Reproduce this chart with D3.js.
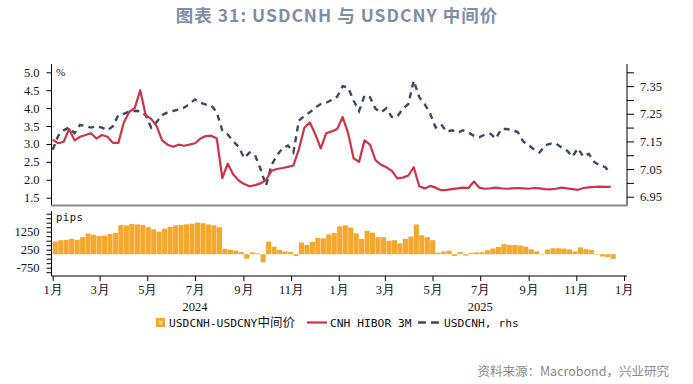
<!DOCTYPE html>
<html>
<head>
<meta charset="utf-8">
<script src="https://cdn.jsdelivr.net/npm/d3@7"></script>
<style>
  body { margin: 0; background: #fff; }
</style>
</head>
<body>
<svg id="chart" width="693" height="384"></svg>
<script>
// weekly readings, first week = 2024-01-01
const weekStart = new Date(2024, 0, 1);

const hibor = [
  3.12, 3.02, 3.06, 3.42, 3.1, 3.2, 3.25, 3.3, 3.15, 3.25,
  3.2, 3.03, 3.03, 3.6, 3.9, 4.0, 4.5, 3.8, 3.7, 3.5,
  3.1, 2.98, 2.92, 2.98, 2.95, 2.98, 3.02, 3.15, 3.22, 3.23,
  3.15, 2.05, 2.45, 2.15, 1.98, 1.88, 1.82, 1.85, 1.9, 2.0,
  2.25, 2.3, 2.33, 2.36, 2.4, 2.85, 3.45, 3.6, 3.27, 2.88,
  3.3, 3.35, 3.42, 3.75, 3.3, 2.6, 2.5, 3.1, 2.98, 2.55,
  2.42, 2.35, 2.25, 2.04, 2.06, 2.12, 2.35, 1.82, 1.76, 1.83,
  1.78, 1.71, 1.72, 1.74, 1.76, 1.78, 1.77, 1.95, 1.78, 1.75,
  1.76, 1.78, 1.76, 1.75, 1.76, 1.77, 1.76, 1.75, 1.77, 1.76,
  1.74, 1.73, 1.75, 1.78, 1.76, 1.74, 1.72, 1.77, 1.79, 1.8,
  1.81, 1.8, 1.8
];

const usdcnh = [
  7.12, 7.17, 7.19, 7.2, 7.18, 7.21, 7.205, 7.2, 7.205, 7.2,
  7.19, 7.205, 7.245, 7.25, 7.258, 7.26, 7.26, 7.245, 7.2, 7.22,
  7.245, 7.255, 7.26, 7.265, 7.272, 7.285, 7.302, 7.29, 7.283, 7.28,
  7.255, 7.19, 7.175, 7.15, 7.13, 7.09, 7.11, 7.1, 7.05, 6.99,
  7.065, 7.1, 7.125, 7.135, 7.11, 7.225, 7.243, 7.255, 7.272, 7.285,
  7.29, 7.3, 7.312, 7.35, 7.345, 7.298, 7.26, 7.316, 7.31, 7.268,
  7.255, 7.27, 7.238, 7.24, 7.268, 7.285, 7.37, 7.31, 7.285, 7.25,
  7.2, 7.212, 7.185, 7.19, 7.182, 7.19, 7.182, 7.17, 7.165, 7.175,
  7.178, 7.16, 7.195, 7.195, 7.19, 7.184, 7.15, 7.137, 7.12, 7.11,
  7.135, 7.142, 7.142, 7.128, 7.117, 7.095, 7.125, 7.095, 7.105, 7.075,
  7.063, 7.057, 7.033
];

const spread = [
  700, 780, 800, 850, 800, 950, 1150, 1080, 1010, 1030,
  1120, 1180, 1620, 1600, 1680, 1650, 1620, 1500, 1380, 1260,
  1420, 1520, 1600, 1620, 1660, 1700, 1760, 1720, 1650, 1600,
  1500, 300, 250, 200, 120, -250, 100, 50, -450, 700,
  420, 240, 150, 120, -100, 650, 520, 680, 900, 880,
  1100, 1180, 1550, 1600, 1480, 1160, 850, 1300, 1200, 950,
  950, 750, 780, 600, 850, 980, 1650, 1050, 950, 780,
  80, 150, 200, -100, 120, -80, 80, 100, 110, 220,
  320, 400, 560, 520, 510, 480, 420, 280, 160, -20,
  260, 330, 330, 310, 270, 150, 380, 280, 240, -30,
  -130, -170, -260
];

const leftTicks = [1.5, 2.0, 2.5, 3.0, 3.5, 4.0, 4.5, 5.0];
const rightTicks = [6.95, 7.00, 7.05, 7.10, 7.15, 7.20, 7.25, 7.30, 7.35, 7.40];
const rightLabels = [6.95, 7.05, 7.15, 7.25, 7.35];
const pipsTicks = [-1000, -750, -500, -250, 0, 250, 500, 750, 1000, 1250, 1500, 1750, 2000, 2250];
const pipsLabels = [-750, 250, 1250];
const monthTicks = ["2024-01-01", "2024-03-01", "2024-05-01", "2024-07-01", "2024-09-01", "2024-11-01",
                    "2025-01-01", "2025-03-01", "2025-05-01", "2025-07-01", "2025-09-01", "2025-11-01", "2026-01-01"];
const monthLabels = ["1月", "3月", "5月", "7月", "9月", "11月", "1月", "3月", "5月", "7月", "9月", "11月", "1月"];
const yearLabels = ["2024", "2025"];
const yearPos = ["2024-07-01", "2025-07-01"];

const weeks = hibor.map((_, i) => d3.timeDay.offset(weekStart, 7 * i));
const parse = d3.timeParse("%Y-%m-%d");

const svg = d3.select("#chart");
const serif = "'Liberation Serif', 'Times New Roman', serif";
const mono = "'DejaVu Sans Mono', monospace";

const left = 51.5, right = 627;
const topY0 = 64, topY1 = 205.5;
const botY0 = 211, botY1 = 276;

const x = d3.scaleTime()
  .domain([new Date(2024, 0, 1), new Date(2026, 0, 1)])
  .range([52.7, 624]);
const yL = d3.scaleLinear().domain([1.5, 5.0]).range([197.7, 72.3]);
const yR = d3.scaleLinear().domain([6.95, 7.40]).range([196.7, 72.3]);
const yP = d3.scaleLinear().domain([-750, 1250]).range([267.7, 231.7]);

// title
svg.append("text")
  .attr("x", 337).attr("y", 22)
  .attr("text-anchor", "middle")
  .style("font-family", "'Noto Sans CJK SC', 'Noto Sans', sans-serif")
  .style("font-weight", "bold")
  .style("font-size", "17.5px")
  .style("letter-spacing", "1px")
  .style("fill", "#7d8ea9")
  .text("图表 31: USDCNH 与 USDCNY 中间价");

// ---- bottom panel: bars
const barW = x(d3.timeDay.offset(weekStart, 7)) - x(weekStart);
svg.append("g")
  .selectAll("rect")
  .data(spread)
  .enter()
  .append("rect")
  .attr("x", (d, i) => x(weeks[i]))
  .attr("y", d => Math.min(yP(d), yP(0)))
  .attr("width", barW - 0.35)
  .attr("height", d => Math.abs(yP(d) - yP(0)))
  .attr("fill", "#f4a82f");

// ---- top panel lines
svg.append("defs").append("clipPath").attr("id", "clipTop")
  .append("rect").attr("x", left).attr("y", topY0).attr("width", right - left).attr("height", topY1 - topY0);

const hiborLine = d3.line().x((d, i) => x(weeks[i])).y(d => yL(d));
const cnhLine = d3.line().x((d, i) => x(weeks[i])).y(d => yR(d));

svg.append("path")
  .datum(usdcnh)
  .attr("clip-path", "url(#clipTop)")
  .attr("d", cnhLine)
  .attr("fill", "none")
  .attr("stroke", "#3b4868")
  .attr("stroke-width", 2.4)
  .attr("stroke-dasharray", "6,5");

svg.append("path")
  .datum(hibor)
  .attr("clip-path", "url(#clipTop)")
  .attr("d", hiborLine)
  .attr("fill", "none")
  .attr("stroke", "#cc3448")
  .attr("stroke-width", 2.2)
  .attr("stroke-linejoin", "round");

// ---- axes
function styleAxis(g) {
  g.select(".domain").remove();
  g.selectAll("line").attr("stroke", "#000");
  g.selectAll("text").style("font-family", serif).style("font-size", "12.5px").attr("fill", "#111");
}

svg.append("g")
  .attr("transform", `translate(${left},0)`)
  .call(d3.axisLeft(yL).tickValues(leftTicks).tickFormat(d3.format(".1f")).tickSize(5).tickPadding(7))
  .call(styleAxis);

svg.append("g")
  .attr("transform", `translate(${right},0)`)
  .call(d3.axisRight(yR).tickValues(rightTicks)
    .tickFormat(d => rightLabels.some(v => Math.abs(v - d) < 1e-6) ? d3.format(".2f")(d) : "")
    .tickSize(7).tickPadding(6))
  .call(styleAxis);

svg.append("g")
  .attr("transform", `translate(${left},0)`)
  .call(d3.axisLeft(yP).tickValues(pipsTicks)
    .tickFormat(d => pipsLabels.includes(d) ? d : "")
    .tickSize(5).tickPadding(7))
  .call(styleAxis);

svg.append("g")
  .attr("transform", `translate(0,${botY1})`)
  .call(d3.axisBottom(x).tickValues(monthTicks.map(parse))
    .tickFormat((d, i) => monthLabels[i]).tickSize(5).tickPadding(4))
  .call(styleAxis);

svg.append("g")
  .selectAll("text")
  .data(yearLabels)
  .enter()
  .append("text")
  .attr("x", (d, i) => x(parse(yearPos[i])))
  .attr("y", 311)
  .attr("text-anchor", "middle")
  .style("font-family", serif)
  .style("font-size", "12.5px")
  .attr("fill", "#111")
  .text(d => d);

// frame lines
svg.append("line").attr("x1", left).attr("x2", left).attr("y1", topY0).attr("y2", topY1)
  .attr("stroke", "#000");
svg.append("line").attr("x1", right).attr("x2", right).attr("y1", topY0).attr("y2", topY1)
  .attr("stroke", "#000");
svg.append("line").attr("x1", left).attr("x2", right).attr("y1", topY1).attr("y2", topY1)
  .attr("stroke", "#8a8a8a").attr("stroke-width", 2);
svg.append("line").attr("x1", left).attr("x2", left).attr("y1", botY0).attr("y2", botY1)
  .attr("stroke", "#000");
svg.append("line").attr("x1", left).attr("x2", right).attr("y1", botY1).attr("y2", botY1)
  .attr("stroke", "#000");

// unit labels
svg.append("text").attr("x", 56).attr("y", 76)
  .style("font-family", serif).style("font-size", "11px").attr("fill", "#111").text("%");
svg.append("text").attr("x", 56).attr("y", 221)
  .style("font-family", mono).style("font-size", "10.5px").attr("fill", "#111")
  .style("letter-spacing", "0.5px").text("pips");

// legend
const lg = svg.append("g").style("font-family", mono).style("font-size", "11.3px").attr("fill", "#111");
lg.append("rect").attr("x", 156).attr("y", 318).attr("width", 9).attr("height", 9).attr("fill", "#f4a82f");
lg.append("rect").attr("x", 158.5).attr("y", 320.5).attr("width", 4).attr("height", 4).attr("fill", "#f8cf8a");
const t1 = lg.append("text").attr("x", 169).attr("y", 326.5);
t1.append("tspan").text("USDCNH-USDCNY");
t1.append("tspan").style("font-family", "'Noto Sans CJK SC', sans-serif").style("font-size", "12.5px").text("中间价");
lg.append("line").attr("x1", 307).attr("x2", 327).attr("y1", 322.5).attr("y2", 322.5)
  .attr("stroke", "#cc3448").attr("stroke-width", 2.2);
lg.append("text").attr("x", 330).attr("y", 326.5).text("CNH HIBOR 3M");
lg.append("line").attr("x1", 418).attr("x2", 442).attr("y1", 322.5).attr("y2", 322.5)
  .attr("stroke", "#3b4868").attr("stroke-width", 2.4).attr("stroke-dasharray", "8,5");
lg.append("text").attr("x", 444).attr("y", 326.5).text("USDCNH, rhs");

// source
svg.append("text")
  .attr("x", 669).attr("y", 376)
  .attr("text-anchor", "end")
  .style("font-family", "'Noto Sans CJK SC', sans-serif")
  .style("font-size", "12.5px")
  .attr("fill", "#8a8a8a")
  .text("资料来源：Macrobond，兴业研究");
</script>
</body>
</html>
